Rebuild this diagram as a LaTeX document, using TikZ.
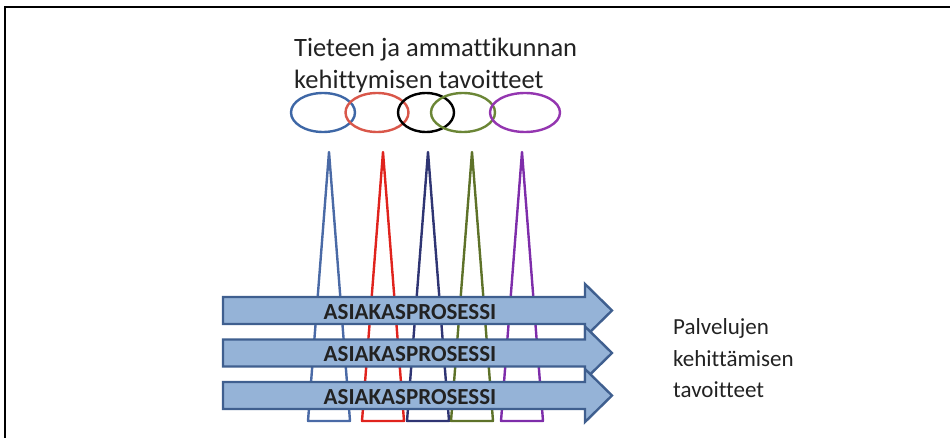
\documentclass[tikz,border=0pt]{standalone}
\usepackage{fontspec}
\setmainfont{Carlito}[Ligatures=NoCommon]
\usetikzlibrary{shapes.geometric}
\definecolor{arrowfill}{HTML}{95B3D7}
\definecolor{arrowline}{HTML}{3F5F8F}
\definecolor{cblue}{HTML}{3E67A6}
\definecolor{cred}{HTML}{D9574A}
\definecolor{cgreen}{HTML}{6B8636}
\definecolor{cpurple}{HTML}{9436B0}
\definecolor{sblue}{HTML}{4A6AA6}
\definecolor{sred}{HTML}{E0231D}
\definecolor{snavy}{HTML}{2F3573}
\definecolor{sgreen}{HTML}{5E7229}
\definecolor{spurple}{HTML}{7E2DAA}
\definecolor{textgrey}{HTML}{222222}
\begin{document}
\begin{tikzpicture}[x=1pt,y=-1pt,
  ring/.style={ellipse,draw,line width=2.4pt,minimum height=39pt,inner sep=0pt},
  spike/.style={line width=2.4pt,line join=round},
  process/.style={fill=arrowfill,draw=arrowline,line width=2.4pt,line join=miter},
  proclabel/.style={font=\bfseries\fontsize{23}{23}\selectfont,text=textgrey,inner sep=0pt,anchor=center},
  caption/.style={inner sep=0pt,anchor=base west,text=textgrey}]
\useasboundingbox (0,0) rectangle (950,438);
% frame
\draw[line width=2.4pt] (5,440) -- (5,7) -- (952,7);

% goals of science and profession
\begin{scope}[every node/.append style={caption,font=\fontsize{26.5}{26.5}\selectfont}]
  \node (science1) at (294,57) {Tieteen ja ammattikunnan};
  \node (science2) at (294,89) {kehittymisen tavoitteet};
\end{scope}

\node[ring,draw=cblue,minimum width=64pt] (r1) at (323,112.5) {};
\node[ring,draw=cred,minimum width=63pt] (r2) at (377,112.5) {};
\node[ring,draw=black,minimum width=56pt] (r3) at (426,112.5) {};
\node[ring,draw=cgreen,minimum width=64pt] (r4) at (463,112.5) {};
\node[ring,draw=cpurple,minimum width=70pt] (r5) at (525,112.5) {};

% spikes reaching down through the processes
\foreach \cx/\col in {329/sblue,383/sred,428/snavy,472/sgreen,522/spurple}
  \draw[spike,draw=\col] (\cx,152) -- (\cx+21,421) -- (\cx-21,421) -- cycle;

% three customer processes
\foreach \cy/\n in {310.5/p1,353/p2,395.5/p3}{
  \draw[process] (223,\cy-13.5) -- (585,\cy-13.5) -- (585,\cy-26.5)
     -- (612,\cy) -- (585,\cy+26.5) -- (585,\cy+13.5) -- (223,\cy+13.5) -- cycle;
  \node[proclabel] (\n) at (410,\cy+1.5) {ASIAKASPROSESSI};
}

% service development goals
\begin{scope}[every node/.append style={caption,font=\fontsize{23}{23}\selectfont}]
  \node (service1) at (673,334) {Palvelujen};
  \node (service2) at (673,366) {kehittämisen};
  \node (service3) at (673,397) {tavoitteet};
\end{scope}
\end{tikzpicture}
\end{document}
